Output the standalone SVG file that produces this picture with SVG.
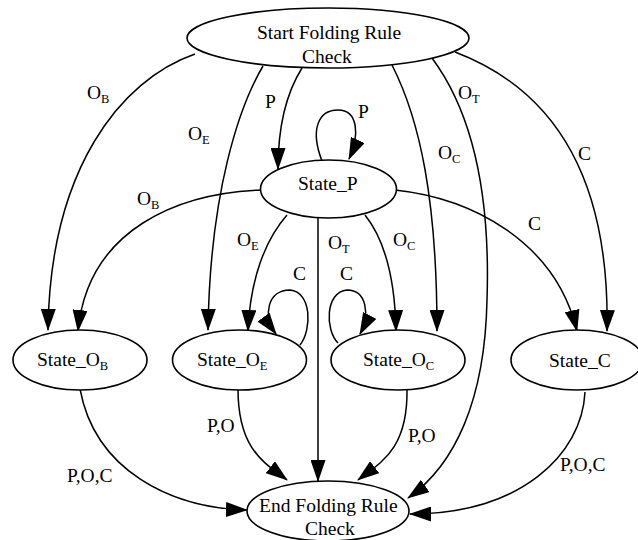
<svg xmlns="http://www.w3.org/2000/svg" width="638" height="540" viewBox="0 0 638 540">
<style>
  .node ellipse { fill: #fff; stroke: #000; stroke-width: 1.6; }
  .edge { fill: none; stroke: #000; stroke-width: 1.5; marker-end: url(#arr); }
  text { font-family: "Liberation Serif", "Times New Roman", serif; font-size: 19.5px; fill: #000; }
  .sub { font-size: 12.5px; }
</style>
<defs>
  <marker id="arr" markerUnits="userSpaceOnUse" markerWidth="22" markerHeight="15" viewBox="0 0 22 15" refX="21" refY="7.5" orient="auto">
    <path d="M0,0 L22,7.5 L0,15 z" fill="#000"/>
  </marker>
</defs>
<rect width="638" height="540" fill="#fff"/>

<g id="connectors">
  <!-- from Start -->
  <path class="edge" d="M195,54 C120,80 50,170 48,330"/>
  <path class="edge" d="M263,66 C240,105 210,190 208,330"/>
  <path class="edge" d="M302,68 C285,95 278,130 278,169"/>
  <path class="edge" d="M392,65 C420,120 437,200 437,331"/>
  <path class="edge" d="M432,58 C478,120 490,210 487,300 C485,400 455,465 408,498"/>
  <path class="edge" d="M455,52 C555,90 610,180 607,331"/>
  <!-- State_P -->
  <path class="edge" d="M322,161 C310,130 318,110 338,110 C358,110 360,135 349,159"/>
  <path class="edge" d="M261,190 C180,193 88,228 78,331"/>
  <path class="edge" d="M287,215 C265,240 250,280 248,331"/>
  <path class="edge" d="M318,218 L318,481"/>
  <path class="edge" d="M365,215 C385,240 395,280 396,331"/>
  <path class="edge" d="M395,190 C470,198 555,240 577,331"/>
  <!-- self loops -->
  <path class="edge" d="M300,345 C312,330 312,292 290,290 C268,290 262,315 276,334"/>
  <path class="edge" d="M338,343 C325,330 325,292 347,290 C367,290 370,315 360,334"/>
  <!-- to End -->
  <path class="edge" d="M80,389 C95,470 170,508 247,510"/>
  <path class="edge" d="M238,389 C238,450 265,463 287,480"/>
  <path class="edge" d="M407,389 C408,450 380,463 358,480"/>
  <path class="edge" d="M585,392 C582,455 520,514 410,514"/>

  <!-- edge labels -->
  <text x="87" y="99">O<tspan class="sub" dy="4">B</tspan></text>
  <text x="265" y="108">P</text>
  <text x="188" y="140">O<tspan class="sub" dy="4">E</tspan></text>
  <text x="458" y="99">O<tspan class="sub" dy="4">T</tspan></text>
  <text x="438" y="159">O<tspan class="sub" dy="4">C</tspan></text>
  <text x="578" y="160">C</text>
  <text x="358" y="118">P</text>
  <text x="137" y="205">O<tspan class="sub" dy="4">B</tspan></text>
  <text x="528" y="230">C</text>
  <text x="237" y="246">O<tspan class="sub" dy="4">E</tspan></text>
  <text x="328" y="249">O<tspan class="sub" dy="4">T</tspan></text>
  <text x="393" y="246">O<tspan class="sub" dy="4">C</tspan></text>
  <text x="293" y="280">C</text>
  <text x="340" y="280">C</text>
  <text x="207" y="432">P,O</text>
  <text x="408" y="442">P,O</text>
  <text x="67" y="482">P,O,C</text>
  <text x="560" y="471">P,O,C</text>
</g>

<g id="start" class="node">
  <ellipse cx="328" cy="38" rx="141" ry="30"/>
  <text x="257" y="38.5">Start Folding Rule</text>
  <text x="302" y="63">Check</text>
</g>
<g id="state_p" class="node">
  <ellipse cx="328.5" cy="189" rx="68" ry="29"/>
  <text x="298" y="190">State_P</text>
</g>
<g id="state_ob" class="node">
  <ellipse cx="80" cy="360" rx="67" ry="30"/>
  <text x="37" y="366">State_O<tspan class="sub" dy="4">B</tspan></text>
</g>
<g id="state_oe" class="node">
  <ellipse cx="239.5" cy="360" rx="67" ry="30"/>
  <text x="197" y="366">State_O<tspan class="sub" dy="4">E</tspan></text>
</g>
<g id="state_oc" class="node">
  <ellipse cx="398" cy="360" rx="67" ry="30"/>
  <text x="363" y="366">State_O<tspan class="sub" dy="4">C</tspan></text>
</g>
<g id="state_c" class="node">
  <ellipse cx="577" cy="360" rx="66" ry="30"/>
  <text x="549" y="367">State_C</text>
</g>
<g id="end" class="node">
  <ellipse cx="328" cy="511" rx="81" ry="30"/>
  <text x="259" y="511.5">End Folding Rule</text>
  <text x="305" y="535">Check</text>
</g>
</svg>
